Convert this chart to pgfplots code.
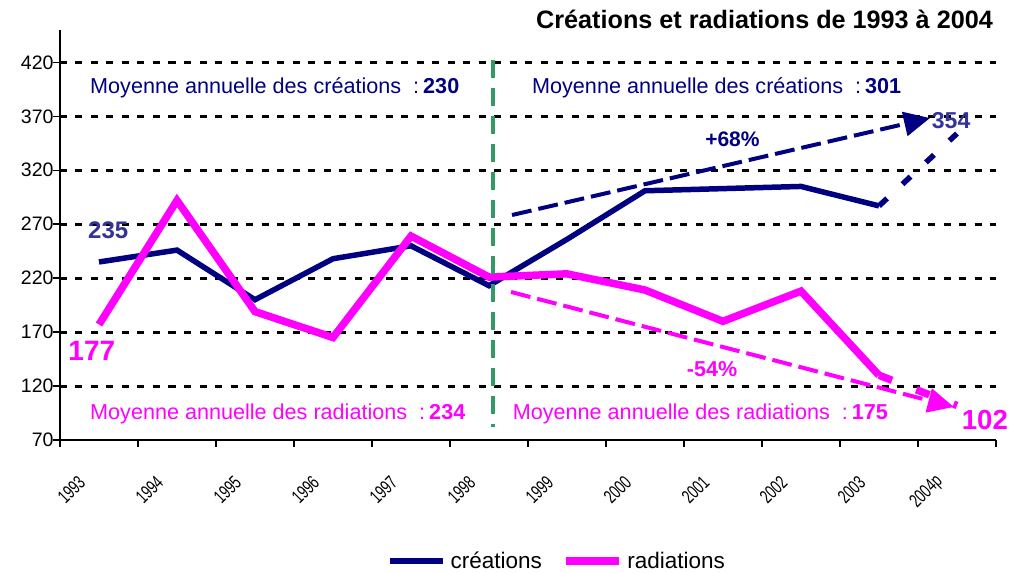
\documentclass[border=0pt]{standalone}
\usepackage{fontspec}
\setmainfont{Liberation Sans}
\usepackage{graphicx}
\usepackage{pgfplots}
\pgfplotsset{compat=1.18}
\usetikzlibrary{arrows.meta}
\definecolor{navyc}{HTML}{000080}
\definecolor{indigoc}{HTML}{333399}
\definecolor{magc}{HTML}{FF00FF}
\definecolor{sgreen}{HTML}{339966}
\newcommand{\xl}[1]{\scalebox{0.7}[1]{\fontsize{19}{19}\selectfont #1}}
\begin{document}
\begin{tikzpicture}
\useasboundingbox (-60pt,-133pt) rectangle (950pt,440pt);
\begin{axis}[
  scale only axis, width=936pt, height=410pt,
  xmin=-0.5, xmax=11.5, ymin=70, ymax=450,
  axis lines*=left,
  axis line style={black, line width=1.5pt},
  clip=false,
  tick align=outside,
  major tick length=7pt,
  tick style={black, line width=1.5pt},
  xtick={-0.5,0.5,...,11.5}, xticklabels={},
  extra x ticks={0,1,...,11},
  extra x tick labels={\xl{1993},\xl{1994},\xl{1995},\xl{1996},\xl{1997},\xl{1998},\xl{1999},\xl{2000},\xl{2001},\xl{2002},\xl{2003},\xl{2004p}},
  extra x tick style={major tick length=0pt, xticklabel style={xshift=-17pt, yshift=-39pt, rotate=45, anchor=east, inner sep=0pt}},
  ytick={120,170,...,420},
  extra y ticks={70},
  extra y tick style={grid=none},
  ymajorgrids,
  major grid style={black, line width=3pt, dash pattern=on 7pt off 8.5pt},
  yticklabel style={font=\fontsize{19.5}{19.5}\selectfont, xshift=4pt},
  /pgf/number format/assume math mode=true,
  legend style={draw=none, fill=none, at={(0.5326,-0.295)}, anchor=center,
    font=\fontsize{22.5}{22.5}\selectfont, legend columns=2,
    /tikz/every even column/.append style={column sep=16pt},
    nodes={inner xsep=4.5pt}},
  legend image code/.code={\draw[#1] (0pt,0pt) -- (53pt,0pt);},
]
\addplot[navyc, line width=5.5pt] coordinates {(0,235)(1,246)(2,200)(3,238)(4,250)(5,213)(6,256)(7,301)(8,303)(9,305)(10,287)};
\addlegendentry{créations}
\addplot[magc, line width=7.5pt] coordinates {(0,177)(1,292)(2,189)(3,165)(4,259)(5,221)(6,224)(7,209)(8,180)(9,208)(10,130)};
\addlegendentry{radiations}
\addplot[navyc, line width=5.5pt, dash pattern=on 11pt off 21pt, forget plot] coordinates {(10,287)(11,354)};
\addplot[magc, line width=7.5pt, dash pattern=on 14pt off 26pt, forget plot] coordinates {(10,130)(11,102)};
\addplot[sgreen, line width=3.5pt, dash pattern=on 18pt off 10pt, forget plot] coordinates {(5.051,422)(5.051,82)};
\addplot[navyc, line width=4pt, dash pattern=on 20pt off 7pt, -{Triangle[length=26pt,width=24pt]}, forget plot] coordinates {(5.295,278.5)(10.654,368.4)};
\addplot[magc, line width=4pt, dash pattern=on 20pt off 7pt, -{Triangle[length=26pt,width=24pt]}, forget plot] coordinates {(5.282,207.2)(10.96,100.6)};
% annotations
\node[anchor=base east, inner sep=0pt, font=\fontsize{25.2}{25.2}\selectfont\bfseries] at (axis cs:11.462,451.6) {Créations et radiations de 1993 à 2004};
\node[anchor=base west, inner sep=0pt, text=navyc, font=\fontsize{21.6}{21.6}\selectfont] at (axis cs:-0.115,391.6) {Moyenne annuelle des créations\ \ :\hspace{4pt}\textbf{230}};
\node[anchor=base west, inner sep=0pt, text=navyc, font=\fontsize{21.6}{21.6}\selectfont] at (axis cs:5.551,391.6) {Moyenne annuelle des créations\ \ :\hspace{4pt}\textbf{301}};
\node[anchor=base west, inner sep=0pt, text=magc, font=\fontsize{21.6}{21.6}\selectfont] at (axis cs:-0.115,89.2) {Moyenne annuelle des radiations\ \ :\hspace{4pt}\textbf{234}};
\node[anchor=base west, inner sep=0pt, text=magc, font=\fontsize{21.6}{21.6}\selectfont] at (axis cs:5.304,89.2) {Moyenne annuelle des radiations\ \ :\hspace{4pt}\textbf{175}};
\node[anchor=base west, inner sep=0pt, text=indigoc, font=\fontsize{24}{24}\selectfont\bfseries] at (axis cs:-0.141,256.6) {235};
\node[anchor=base west, inner sep=0pt, text=magc, font=\fontsize{28}{28}\selectfont\bfseries] at (axis cs:-0.394,144.1) {177};
\node[anchor=base west, inner sep=0pt, text=navyc, font=\fontsize{21}{21}\selectfont\bfseries] at (axis cs:7.77,341.8) {+68\%};
\node[anchor=base west, inner sep=0pt, text=magc, font=\fontsize{21.5}{21.5}\selectfont\bfseries] at (axis cs:7.535,128.7) {-54\%};
\node[anchor=base west, inner sep=0pt, text=indigoc, font=\fontsize{23}{23}\selectfont\bfseries] at (axis cs:10.676,358.9) {354};
\node[anchor=base west, inner sep=0pt, text=magc, font=\fontsize{27.6}{27.6}\selectfont\bfseries] at (axis cs:11.06,79.3) {102};
\end{axis}
\end{tikzpicture}
\end{document}
